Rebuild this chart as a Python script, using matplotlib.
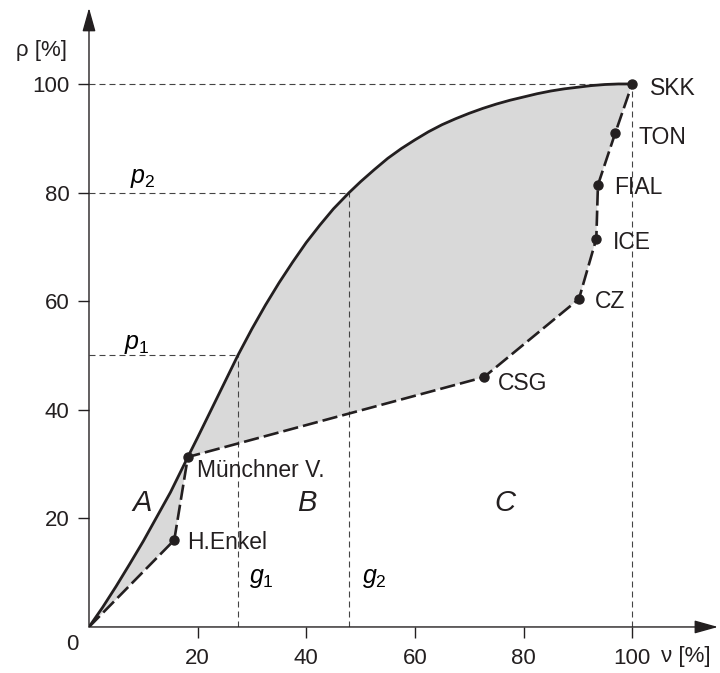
import matplotlib
matplotlib.use('Agg')
import matplotlib.pyplot as plt

plt.rcParams['font.family'] = ['Liberation Sans', 'DejaVu Sans']
plt.rcParams['mathtext.fontset'] = 'custom'
plt.rcParams['mathtext.it'] = 'Liberation Sans:italic'
plt.rcParams['mathtext.rm'] = 'Liberation Sans'

# concentration curve
curve_x = [0, 2.5, 5, 7.5, 10, 12.5, 15, 18.2, 20, 22.5, 25, 27.4, 30, 32.5, 35, 37.5,
           40, 42.5, 45, 47.9, 50, 52.5, 55, 57.5, 60, 62.5, 65, 67.5, 70, 72.5, 75,
           77.5, 80, 82.5, 85, 87.5, 90, 92.5, 95, 97.5, 100]
curve_y = [0, 3.6, 7.5, 11.6, 15.8, 20.3, 24.8, 31.3, 34.9, 40.0, 45.1, 50.0, 54.9,
           59.3, 63.4, 67.2, 70.8, 74.0, 77.0, 80.0, 82.0, 84.2, 86.3, 88.1, 89.7,
           91.2, 92.5, 93.6, 94.6, 95.5, 96.3, 97.0, 97.6, 98.2, 98.7, 99.1, 99.4,
           99.7, 99.9, 100.0, 100.0]

# dashed polygon through the companies
firm_names = ['', 'H.Enkel', 'Münchner V.', 'CSG', 'CZ', 'ICE', 'FIAL', 'TON', 'SKK']
firm_x = [0, 15.7, 18.2, 72.7, 90.2, 93.4, 93.7, 96.9, 100]
firm_y = [0, 16.0, 31.3, 46.0, 60.4, 71.5, 81.4, 91.0, 100]

# helper lines
p_vals = [50, 80]      # p1, p2
g_vals = [27.4, 47.9]  # g1, g2
ticks = [20, 40, 60, 80, 100]

fig = plt.figure(figsize=(7.2, 6.73), dpi=100)
ax = fig.add_axes([0.1236, 0.0684, 0.8736, 0.9198])
ax.set_xlim(0, 115.8)
ax.set_ylim(0, 114)

# grey area between curve and polygon
fill_x = list(curve_x) + firm_x[::-1]
fill_y = list(curve_y) + firm_y[::-1]
ax.fill(fill_x, fill_y, color='#d9d9d9', lw=0, zorder=1)

# thin dashed guide lines
guide = dict(color='#444444', lw=0.8, dashes=(5.4, 3.6), zorder=2)
ax.plot([0, 100], [100, 100], **guide)
ax.plot([100, 100], [0, 100], **guide)
for p, g in zip(p_vals, g_vals):
    ax.plot([0, g], [p, p], **guide)
    ax.plot([g, g], [0, p], **guide)

ax.plot(curve_x, curve_y, color='#231f20', lw=2.0, zorder=3,
        solid_capstyle='round', solid_joinstyle='round')
ax.plot(firm_x, firm_y, color='#231f20', lw=1.9, dashes=(5.8, 1.9), zorder=3)
ax.plot(firm_x[1:], firm_y[1:], 'o', color='#231f20', ms=6.5, zorder=4)

# company labels
offsets = {
    'H.Enkel': (9.4, -2), 'Münchner V.': (6.5, -9.4), 'CSG': (10, -4.3),
    'CZ': (11.5, -2), 'ICE': (12, -3), 'FIAL': (12, -2), 'TON': (16.5, -3.6),
    'SKK': (13, -3),
}
for name, x, y in zip(firm_names, firm_x, firm_y):
    if not name:
        continue
    ax.annotate(name, (x, y), xytext=offsets[name], textcoords='offset points',
                ha='left', va='center', fontsize=16.5, color='#231f20')

# axes with arrows
for s in ax.spines.values():
    s.set_visible(False)
arrow = dict(arrowstyle='-|>,head_length=1.0,head_width=0.28', color='#231f20',
             lw=1.0, shrinkA=0, shrinkB=0, mutation_scale=14.5)
ax.annotate('', xy=(1, 0), xytext=(0, 0), xycoords='axes fraction', arrowprops=arrow)
ax.annotate('', xy=(0, 1), xytext=(0, 0), xycoords='axes fraction', arrowprops=arrow)

ax.set_xticks(ticks)
ax.set_yticks(ticks)
ax.tick_params(direction='out', length=8, width=1.0, color='#231f20',
               labelsize=16, labelcolor='#231f20', pad=6)
ax.tick_params(axis='x', pad=7)

ax.text(-3.1, -3.3, '0', fontsize=16, ha='center', va='center', color='#231f20')
ax.text(-8.8, 106.1, 'ρ [%]', fontsize=16, ha='center', va='center', color='#231f20')
ax.text(109.8, -5.5, 'ν [%]', fontsize=16, ha='center', va='center', color='#231f20')

ax.text(9.8, 82.7, r'$\mathit{p}_\mathrm{2}$', fontsize=18, ha='center', va='center')
ax.text(8.7, 52.1, r'$\mathit{p}_\mathrm{1}$', fontsize=18, ha='center', va='center')
ax.text(31.7, 9.0, r'$\mathit{g}_\mathrm{1}$', fontsize=18, ha='center', va='center')
ax.text(52.5, 9.0, r'$\mathit{g}_\mathrm{2}$', fontsize=18, ha='center', va='center')

for lab, x in zip(['A', 'B', 'C'], [9.8, 40.1, 76.6]):
    ax.text(x, 22.8, lab, fontsize=21, style='italic', ha='center', va='center',
            color='#231f20')

fig.savefig('out.png', dpi=100)
